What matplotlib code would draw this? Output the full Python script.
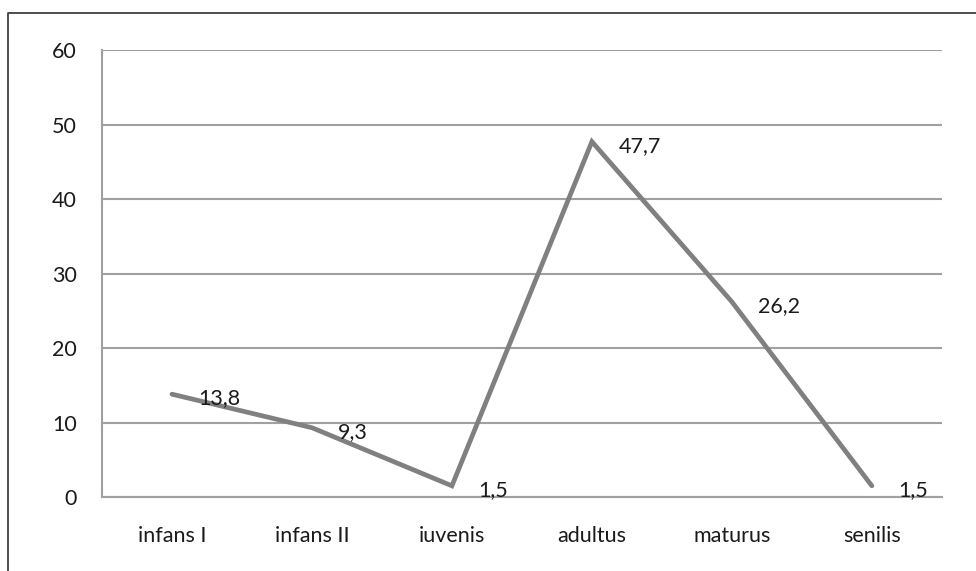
import matplotlib.pyplot as plt
from matplotlib.lines import Line2D

# age groups and share (%) per group
age_groups = ["infans I", "infans II", "iuvenis", "adultus", "maturus", "senilis"]
shares = [13.8, 9.3, 1.5, 47.7, 26.2, 1.5]
y_ticks = [0, 10, 20, 30, 40, 50, 60]

plt.rcParams["font.family"] = ["Lato", "DejaVu Sans"]

fig = plt.figure(figsize=(9.76, 5.71), dpi=100)
ax = fig.add_axes([0.1045, 0.1296, 0.8605, 0.7828])

x = list(range(len(age_groups)))
ax.plot(x, shares, color="#808080", linewidth=3.4, solid_capstyle="round",
        solid_joinstyle="miter", zorder=3)

# value labels next to each point, comma as decimal separator
for xi, v in zip(x, shares):
    ax.annotate(f"{v:.1f}".replace(".", ","), (xi, v), xytext=(19, -3),
                textcoords="offset points", ha="left", va="center",
                fontsize=15.5, color="#1a1a1a", zorder=4)

ax.set_xlim(-0.5, len(age_groups) - 0.5)
ax.set_ylim(0, 60)
ax.set_xticks(x)
ax.set_xticklabels(age_groups)
ax.set_yticks(y_ticks)
ax.yaxis.grid(True, color="#a0a0a0", linewidth=1.5)
ax.set_axisbelow(True)
ax.tick_params(axis="both", length=0, labelsize=15.5, colors="#1a1a1a")
ax.tick_params(axis="y", pad=18)
ax.tick_params(axis="x", pad=21)

for side in ["top", "right"]:
    ax.spines[side].set_visible(False)
for side in ["left", "bottom"]:
    ax.spines[side].set_color("#a0a0a0")
    ax.spines[side].set_linewidth(1.5)

# outer chart frame (left and top edges)
fig.add_artist(Line2D([8 / 976, 8 / 976, 1.0], [0.0, 1 - 13 / 571, 1 - 13 / 571],
                      transform=fig.transFigure, color="#404040", linewidth=1.3))

fig.savefig("out.png", dpi=100)
